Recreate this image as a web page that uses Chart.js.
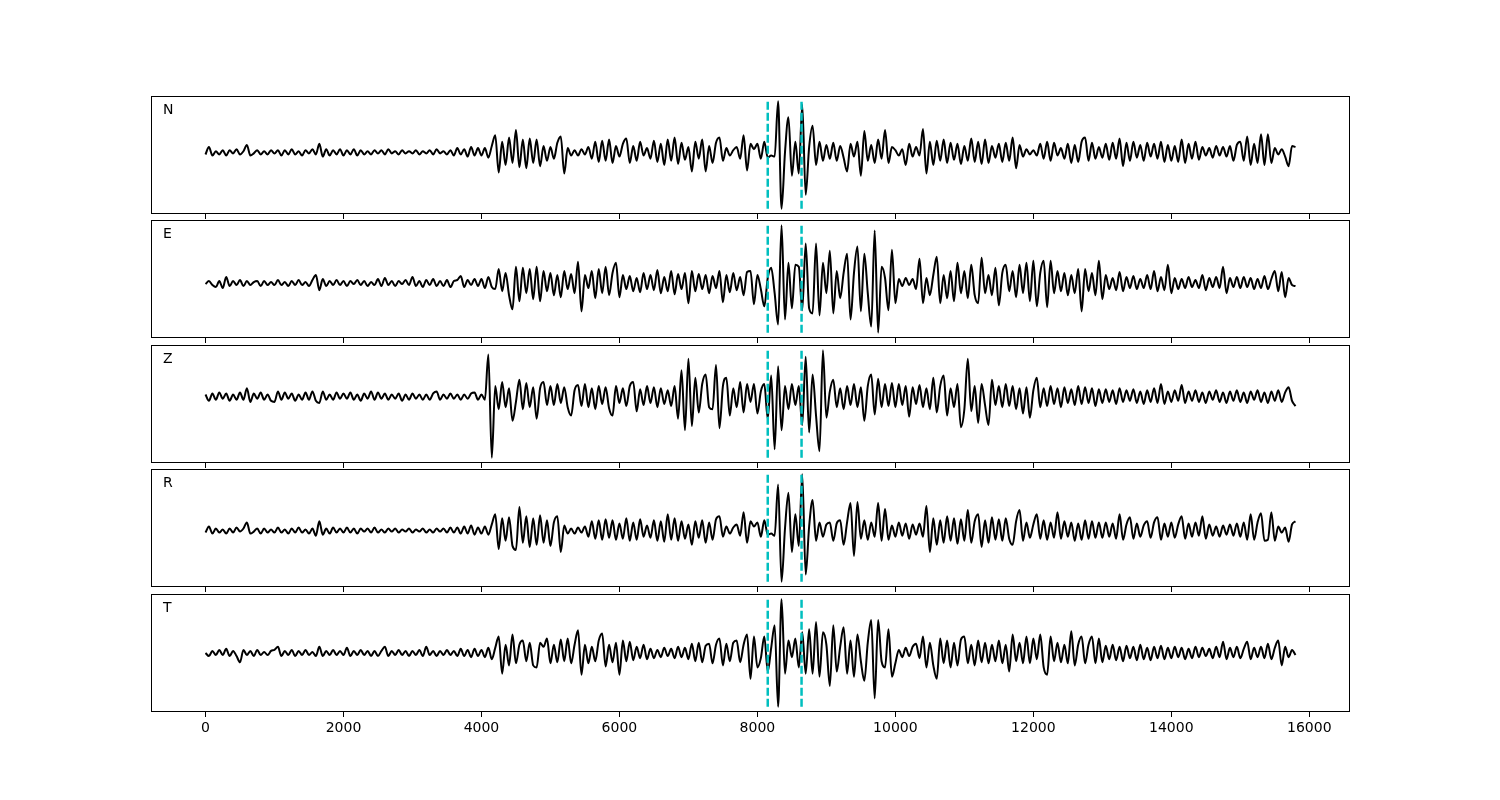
<!DOCTYPE html>
<html>
<head>
<meta charset="utf-8">
<script src="https://cdn.jsdelivr.net/npm/chart.js@4.4.0/dist/chart.umd.min.js"></script>
<style>
body{margin:0;background:#fff;}
#wrap{position:relative;width:1500px;height:800px;background:#fff;}
#wrap canvas{position:absolute;left:0;top:0;}
</style>
</head>
<body>
<div id="wrap">
<canvas id="c0" width="1500" height="800"></canvas>
<canvas id="c1" width="1500" height="800"></canvas>
<canvas id="c2" width="1500" height="800"></canvas>
<canvas id="c3" width="1500" height="800"></canvas>
<canvas id="c4" width="1500" height="800"></canvas>
</div>
<script>
// channel names, one panel each
var channels = ['N', 'E', 'Z', 'R', 'T'];
var tickValues = [0, 2000, 4000, 6000, 8000, 10000, 12000, 14000, 16000];
var pickTimes = [8150, 8640];   // the two dashed markers
var sampleStep = 50;            // samples every 50 units, starting at 0

// traces (one row per 1000 units)
var traceN = [
 -2, 5, -3, 1, -2, 2, -3, 2, -1, 3, -2, 1, 7, -3, -1, 2, -2, 1, -2, 2,
 -1, 2, -3, 2, -2, 3, -2, 1, -3, 2, -1, 3, -2, 8, -4, 3, -3, 2, -2, 3,
 -3, 2, -2, 3, -3, 2, -2, 1, -2, 2, -1, 2, -2, 3, -1, 1, -2, 2, -1, 1,
 -1, 2, -2, 1, -1, 2, -2, 3, -1, 1, -2, 2, -3, 4, -2, 3, -4, 5, -3, 4,
 -3, 4, -5, 6, 16, -19, 10, -12, 14, -10, 21, -14, 12, -15, 13, -10, 12, -13, 6, -8,
 5, -6, 9, 15, -20, 4, -3, 2, -3, 3, -2, 5, -6, 10, -9, 11, -8, 12, -10, 6,
 -4, 8, 13, -10, 6, -8, 10, -3, 4, -6, 11, -9, 8, -12, 12, -8, 14, -11, 9, -7,
 5, -18, 10, -6, 12, -18, 6, -10, 9, 14, -8, 4, -3, 2, 5, -6, 16, -17, 8, 3,
 8, -6, 10, -5, -3, -4, 48, -53, 0, 33, -22, 10, -20, 45, -40, 5, 25, -12, 10, -8,
 7, -6, 9, -8, 6, -5, -18, 8, -4, 10, -22, 20, -8, 7, -10, 12, -6, 21, -10, 5,
 2, -3, 3, -12, 8, -4, 5, -3, 22, -20, 10, -12, 11, -8, 12, -10, 9, -7, 8, -11,
 6, -8, 13, -9, 10, -11, 12, -10, 6, -5, 8, -9, 9, -8, 14, -15, 7, -4, 3, -2,
 2, -3, 8, -6, 10, -8, 9, -3, 4, -6, 8, -10, 7, -9, 10, 14, -8, 9, -6, 5,
 -5, 8, -7, 9, -6, 13, -13, 9, -8, 10, -5, 7, -8, 9, -4, 8, -6, 10, -9, 7,
 -8, 6, -9, 12, -10, 8, -6, 10, -7, 5, -3, 4, -5, 6, -3, 5, -4, 6, -8, 7,
 10, -8, 15, -12, 8, -10, 17, -12, 17, -10, 4, -2, 3, -4, -13, 6, 5
];
var traceE = [
 -1, 2, -2, -4, 2, -5, 6, -3, 2, -2, 3, -3, 2, -2, 1, 2, -3, 2, -2, 1,
 -2, 3, -2, 1, -3, 2, -2, 3, -2, 1, -3, 3, 8, -7, 4, -3, 2, -2, 3, -2,
 2, -3, 2, -1, 3, -2, 2, -3, 1, -2, 4, -3, 5, -2, 2, -3, 2, -1, 3, -2,
 6, -3, 2, -4, 3, -2, 4, -3, 2, -3, 3, -4, 2, 3, 7, -4, 3, -2, 4, -3,
 4, -5, 6, -4, -6, 14, -8, 10, -12, -26, 16, -18, 15, -10, 14, -16, 16, -18, 12, -8,
 10, -12, 8, -14, 12, -6, 9, -10, 21, -28, 8, -5, 12, -15, 14, -10, 16, -12, 10, 20,
 -14, 8, -6, 7, -8, 5, -9, 10, -6, 8, -7, 13, -10, 6, -8, 12, -11, 9, -6, 10,
 -20, 12, -8, 9, -6, 8, -10, 7, -5, 12, -19, 8, -9, 10, -7, 6, -12, 11, 12, -21,
 8, -6, -23, 5, 15, -10, -41, 57, -36, 20, -25, 18, 16, -27, 39, -25, -30, 39, -32, 20,
 -10, 32, -30, 12, -15, 10, 29, -36, 10, 36, -28, 29, -10, -43, 52, -49, 16, 5, -27, 33,
 -20, 4, -3, 5, -2, 4, -6, 24, -20, 5, -12, 8, 26, -20, 8, -15, 12, -18, 20, -10,
 12, -15, 18, -12, -20, 25, -10, 8, -12, 15, -22, 10, 18, -8, 12, -14, 18, -10, 20, -18,
 22, -23, 10, 22, -24, 22, -10, 12, -8, 10, -12, 8, -10, 14, -28, 14, -8, 10, -12, 22,
 -16, 8, -6, 5, -7, 11, -8, 6, -5, 7, -6, 4, -5, 8, -6, 12, -8, 6, -7, 18,
 -10, 5, -6, 4, -5, 6, -4, 3, -5, 8, -7, 5, -4, 6, -5, 16, -10, 5, -4, 6,
 -5, 6, -4, 5, -6, 4, -5, 7, -6, 4, 12, -8, 11, -14, 5, -2, -3
];
var traceZ = [
 2, -4, 3, -3, 4, -2, 3, -4, 2, -3, 4, -3, 8, -5, 3, -2, 4, -3, 2, -4,
 -5, 5, -3, 4, -2, 3, -4, 2, -3, 4, -3, 5, -4, -6, 5, -3, 2, -3, 4, -2,
 3, -2, 4, -3, 2, -4, 3, -2, 5, -3, 4, -2, 3, -3, 2, -2, 3, -4, 2, -3,
 3, -2, 2, -3, 2, -3, 3, 5, -3, 2, -2, 3, -2, 2, -3, 2, -2, 3, 4, -3,
 2, -3, 40, -58, 10, -12, 14, -10, 8, -23, -5, 16, -12, 13, -10, 9, -21, 8, 14, -8,
 10, -8, 12, -6, 9, -10, -18, 6, 11, -9, 12, -10, 8, -12, 10, -7, 9, -11, -18, 10,
 -6, 8, -9, 10, 14, -14, 7, -8, 10, -6, 9, -10, 8, -7, 6, -9, 10, -21, 25, -32,
 36, -28, 18, -15, 12, 21, -10, -12, 30, -30, 10, 18, -18, 8, -10, 14, -15, 12, -5, 12,
 -16, 5, 12, -21, 20, -50, 29, -32, 10, -12, 12, -8, 10, -27, 38, -34, 21, -18, -52, 44,
 -20, 5, 16, -10, 8, -12, 10, -8, 12, -10, 9, -23, 10, 21, -17, 17, -10, 12, -9, 13,
 -10, 12, -8, 10, -19, 9, -7, 11, -10, 8, -12, 18, -15, 10, 20, -18, 8, -10, 12, -29,
 -12, 36, -14, 10, -25, 12, -8, -27, 16, -8, 10, -10, 12, -9, 10, -12, 8, -16, 9, -20,
 6, 18, -10, 8, -9, 10, -7, 8, -10, 9, -6, 7, -8, 10, -7, 9, -6, 8, -9, 7,
 -6, 7, -5, 6, -7, 8, -5, 6, -4, 7, -6, 5, -7, 6, -5, 8, -6, 12, -7, 5,
 -5, 6, -4, 11, -6, 5, -4, 6, -5, 4, -6, 5, -3, 6, -5, 4, -6, 5, -4, 6,
 -5, 4, -6, 5, -3, 6, -5, 4, -6, 5, -4, 6, -5, 4, 9, -4, -9
];
var traceR = [
 -2, 4, -3, 2, -2, 1, -3, 2, -2, 3, -1, 2, 8, -3, -1, 2, -3, 2, -2, 1,
 -2, 3, -2, 1, -3, 2, -2, 3, -2, 1, -3, 2, -5, 9, -4, 2, -3, 3, -2, 2,
 -2, 3, -2, 2, -3, 2, -1, 2, -2, 3, -2, 1, -2, 2, -1, 2, -2, 1, -1, 2,
 -2, 1, -1, 2, -2, 1, -2, 2, -1, 2, -2, 3, -2, 3, -3, 4, -3, 5, -4, 3,
 -3, 4, -4, 6, 16, -18, 12, -10, 13, -15, -19, 23, -12, 14, -16, 12, -14, 15, -12, 10,
 -15, 8, 14, -21, 5, -3, 2, -3, 3, -2, 4, -6, 9, -8, 10, -9, 11, -7, 10, -9,
 7, -8, 12, -10, 8, -9, 11, -6, 5, -7, 10, -10, 9, -11, 16, -9, 12, -10, 9, -8,
 6, -14, 9, -7, 10, -12, 8, -9, 11, 14, -6, 4, -3, 3, 6, -5, 18, -12, 9, 4,
 8, -6, 10, -4, -3, -5, 45, -50, 2, 37, -21, 16, -15, 55, -43, 4, 30, -10, 8, -6,
 6, 8, -10, 7, 10, -14, 8, 27, -25, 28, -8, 10, -9, 8, -6, 27, -10, 21, -9, 5,
 -6, 8, -5, 7, -8, 6, -4, 7, -6, 24, -21, 12, -14, 10, -12, 14, -10, 12, -13, 11,
 -10, 20, -12, 9, 16, -16, 10, -12, 13, -9, 11, -10, 12, -8, -14, 9, 20, -10, 8, -7,
 6, 16, -8, 10, -9, 8, -7, 18, -8, 9, -6, 8, -10, 7, -9, 10, -8, 9, -7, 8,
 -7, 8, -6, 7, -8, 16, -9, 6, 13, -8, 7, -6, 5, 9, -7, 8, 13, -9, 7, -6,
 8, -7, 6, 14, -8, 7, -6, 8, -5, 14, -8, 6, -5, 4, -6, 5, -4, 6, -5, 7,
 -6, 8, -9, 16, -9, 8, 17, -10, -9, 18, -10, 4, -2, 3, -11, 6, 9
];
var traceT = [
 0, -3, 2, -2, 3, -2, 4, -3, 2, -3, -9, 3, -2, 2, -3, 3, -2, 1, -2, 2,
 3, 6, -3, 2, -2, 3, -3, 2, -2, 3, -2, 1, -3, 6, -3, 2, -2, 3, -2, 2,
 -2, 5, -3, 2, -2, 3, -2, 2, -3, 2, -3, 2, 6, -3, 2, -2, 3, -2, 2, -3,
 2, -2, 3, -3, 6, -2, 2, -3, 2, -2, 3, -2, 2, -3, 4, -3, 3, -4, 4, -3,
 3, -4, 5, -6, 5, 16, -20, 8, -12, 18, -10, 8, 12, -8, 10, -12, -14, 10, 6, 14,
 -10, 8, -9, 13, -8, 14, -10, 8, 22, -21, 8, -10, 6, -8, 12, 19, -13, 8, -9, 10,
 -21, 12, -8, 11, -7, 6, -5, 8, -6, 4, -5, 3, -4, 5, -3, 4, -5, 6, -4, 5,
 -6, 9, -8, 10, -9, 7, 9, -10, 8, 14, -12, 9, -8, 10, 12, -9, 8, 18, -25, 16,
 -14, -5, 16, -18, 5, 27, -52, 52, -20, 12, -4, 14, -14, 20, -20, 23, -20, 30, -23, 20,
 8, -32, 27, -18, 6, 25, -20, 12, -23, 18, -8, -27, 10, 32, -44, 32, -8, -14, 23, -23,
 -10, 3, -4, 5, -3, 6, 9, -5, 16, -14, 10, -12, -25, 14, -10, 12, -14, 10, -12, 13,
 16, -10, 8, -12, 12, -9, 10, -10, 8, -8, 12, -10, 8, -18, 18, -8, 10, -10, 16, -10,
 14, -6, 18, -14, -21, 16, -8, 10, -9, 8, -10, 21, -12, 8, 16, -10, 8, 16, -10, 14,
 -9, 7, -6, 8, -7, 6, -8, 7, -5, 6, -7, 8, -6, 5, -7, 6, -5, 7, -6, 5,
 -5, 6, -4, 5, -6, 4, -5, 6, -4, 5, -3, 4, -5, 6, -4, 11, -6, 5, -4, 6,
 -5, 4, 11, -6, 5, -4, 6, -5, 9, -6, 5, 12, -12, 6, -4, 3, -2
];

var traces = [traceN, traceE, traceZ, traceR, traceT];

// panel placement on the page (matplotlib-like subplot grid)
var panelTops = [96, 220, 345, 469, 594];
var panelHeight = 118;

// frame + channel letter
var framePlugin = {
  id: 'frame',
  afterDraw: function (chart) {
    var a = chart.chartArea, ctx = chart.ctx;
    ctx.save();
    ctx.strokeStyle = '#000';
    ctx.lineWidth = 1;
    ctx.strokeRect(Math.round(a.left) + 0.5, Math.round(a.top) + 0.5, Math.round(a.right - a.left) - 1, Math.round(a.bottom - a.top) - 1);
    ctx.fillStyle = '#000';
    ctx.font = '14px "DejaVu Sans"';
    ctx.textBaseline = 'alphabetic';
    ctx.fillText(chart.options.plugins.frame.label, a.left + 12, a.top + 18);
    ctx.restore();
  }
};

function drawPanel(i) {
  var trace = traces[i];
  var lo = Math.min.apply(null, trace), hi = Math.max.apply(null, trace);
  var pad = (hi - lo) * 0.05;
  var last = (i == channels.length - 1);
  var axisH = last ? 30 : 6;
  var top = panelTops[i];
  var bottom = top + panelHeight;

  var pts = trace.map(function (v, k) { return {x: k * sampleStep, y: v}; });
  var datasets = [];
  pickTimes.forEach(function (t) {
    datasets.push({
      data: [{x: t, y: lo}, {x: t, y: hi}],
      borderColor: '#00bfbf', borderWidth: 2.5, borderDash: [8, 3],
      pointRadius: 0, fill: false
    });
  });
  datasets.push({
    data: pts, borderColor: '#000', borderWidth: 2, pointRadius: 0,
    cubicInterpolationMode: 'monotone', fill: false
  });

  new Chart(document.getElementById('c' + i).getContext('2d'), {
    type: 'line',
    data: {datasets: datasets},
    options: {
      responsive: false,
      animation: false,
      events: [],
      layout: {padding: {left: 151, right: 150, top: top, bottom: 800 - bottom - axisH}},
      plugins: {legend: {display: false}, tooltip: {enabled: false}, frame: {label: channels[i]}},
      scales: {
        x: {
          type: 'linear', min: -790, max: 16590,
          afterBuildTicks: function (s) { s.ticks = tickValues.map(function (v) { return {value: v}; }); },
          afterFit: function (s) { s.height = axisH; },
          grid: {drawOnChartArea: false, drawTicks: true, tickLength: 5, color: '#000', lineWidth: 1},
          border: {display: false},
          ticks: {
            display: last, color: '#000', padding: 3, maxRotation: 0, autoSkip: false,
            font: {family: 'DejaVu Sans', size: 14},
            callback: function (v) { return String(v); }
          }
        },
        y: {display: false, min: lo - pad, max: hi + pad}
      }
    },
    plugins: [framePlugin]
  });
}

for (var i = 0; i < channels.length; i++) drawPanel(i);
</script>
</body>
</html>
